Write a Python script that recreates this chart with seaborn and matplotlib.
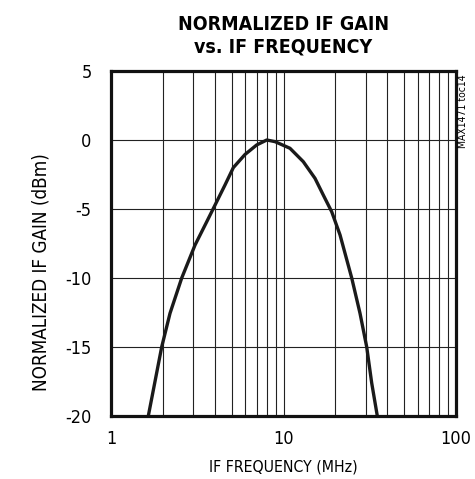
import pandas as pd
import matplotlib.pyplot as plt
import seaborn as sns
from matplotlib.ticker import LogLocator, NullFormatter, FixedLocator

# values
freq_mhz = [1.645, 1.967, 2.198, 2.57, 3.07, 3.59, 4.10, 4.58, 5.12, 5.98, 6.99, 8.0,
            8.93, 10.9, 13.02, 15.23, 17.01, 19.03, 21.27, 24.86, 27.77, 30.37, 32.45, 34.98]
gain_db = [-20.0, -15.0, -12.56, -10.0, -7.61, -5.92, -4.47, -3.26, -2.0, -1.05, -0.36, 0.0,
           -0.12, -0.6, -1.57, -2.78, -3.99, -5.2, -6.88, -10.0, -12.56, -15.0, -17.6, -20.0]

y_ticks = [-20, -15, -10, -5, 0, 5]
x_ticks = [1, 10, 100]
x_tick_labels = ['1', '10', '100']

df = pd.DataFrame({'freq': freq_mhz, 'gain': gain_db})

sns.set_style('white')
plt.rcParams['font.family'] = ['DejaVu Sans']
plt.rcParams['font.stretch'] = 'condensed'
plt.rcParams['axes.unicode_minus'] = False
plt.rcParams['text.color'] = 'black'
plt.rcParams['axes.labelcolor'] = 'black'
plt.rcParams['xtick.color'] = 'black'
plt.rcParams['ytick.color'] = 'black'

fig = plt.figure(figsize=(4.75, 4.79), dpi=100)
ax = fig.add_axes([0.2337, 0.1315, 0.7263, 0.7203])

sns.lineplot(data=df, x='freq', y='gain', color='#1a1a1a', linewidth=2.4, ax=ax)

ax.set_xscale('log')
ax.set_xlim(1, 100)
ax.set_ylim(-20, 5)
ax.xaxis.set_major_locator(FixedLocator(x_ticks))
ax.set_xticklabels(x_tick_labels)
ax.xaxis.set_minor_locator(LogLocator(base=10, subs=range(2, 10)))
ax.xaxis.set_minor_formatter(NullFormatter())
ax.set_yticks(y_ticks)

ax.grid(True, which='both', axis='x', color='#222222', linewidth=0.8)
ax.grid(True, which='major', axis='y', color='#222222', linewidth=0.8)
ax.tick_params(which='both', length=0, labelsize=13)
ax.tick_params(axis='y', pad=14)
ax.tick_params(axis='x', pad=10)

for s in ax.spines.values():
    s.set_linewidth(2.3)
    s.set_color('#111111')

ax.set_xlabel('IF FREQUENCY (MHz)', fontsize=11.3, labelpad=8)
ax.set_ylabel('NORMALIZED IF GAIN (dBm)', fontsize=13.5)
ax.yaxis.set_label_coords(-0.174, 0.417)

fig.text(0.596, 0.968, 'NORMALIZED IF GAIN\nvs. IF FREQUENCY', ha='center', va='top',
         fontsize=14, fontweight='bold', linespacing=1.2)
fig.text(0.975, 0.845, 'MAX1471 toc14', rotation=90, ha='center', va='top', fontsize=7.5)

fig.savefig('out.png', dpi=100)
